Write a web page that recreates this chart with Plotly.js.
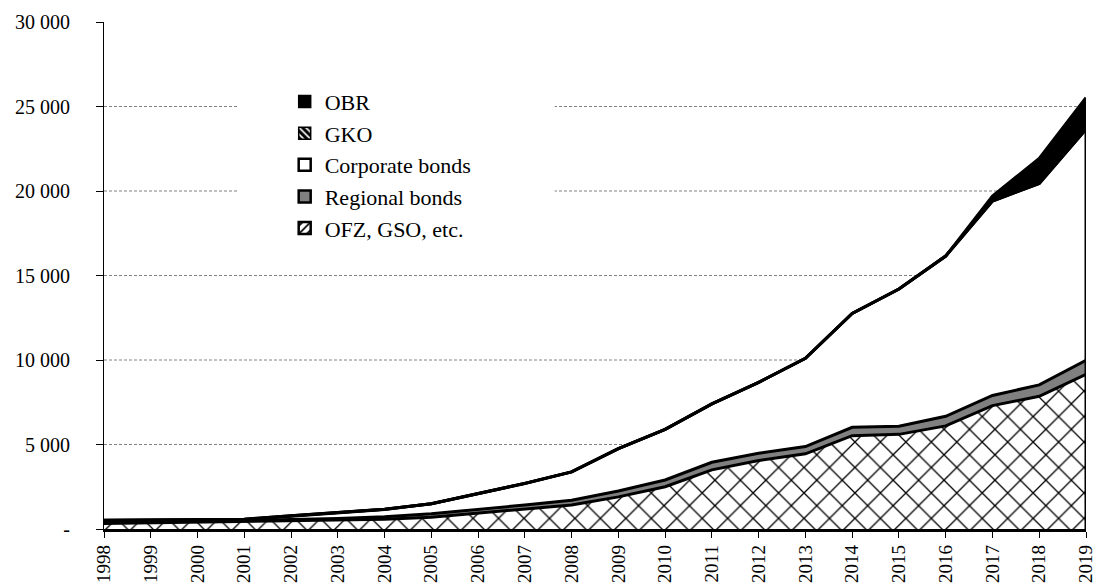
<!DOCTYPE html>
<html>
<head>
<meta charset="utf-8">
<script src="https://cdn.plot.ly/plotly-3.0.1.min.js"></script>
<style>html,body{margin:0;padding:0;background:#fff;}#chart{width:1096px;height:583px;}</style>
</head>
<body>
<div id="chart"></div>
<script>
// ---- data (billions) ----
const years = [1998,1999,2000,2001,2002,2003,2004,2005,2006,2007,2008,2009,2010,2011,2012,2013,2014,2015,2016,2017,2018,2019];
const ofz       = [330,370,400,420,480,520,580,700,950,1200,1420,1900,2500,3500,4050,4450,5520,5600,6100,7300,7850,9150];
const regional  = [50,50,60,60,80,100,140,200,200,220,280,350,400,450,430,430,500,480,570,600,680,830];
const corporate = [40,40,50,60,200,320,440,590,965,1275,1680,2500,3000,3450,4200,5220,6730,8120,9480,11500,11920,13670];
const gko       = [100,80,60,40,30,20,10,10,5,5,0,0,0,0,0,0,0,0,0,0,0,0];
const obr       = [0,0,0,0,0,0,0,0,0,0,0,0,0,0,0,0,0,0,0,300,1480,1870];
const yTickVals = [0,5000,10000,15000,20000,25000,30000];
const yTickText = ['-','5 000','10 000','15 000','20 000','25 000','30 000'];
const gridVals  = [5000,10000,15000,20000,25000];
const names = {obr:'OBR', gko:'GKO', corp:'Corporate bonds', reg:'Regional bonds', ofz:'OFZ, GSO, etc.'};

const FONT = 'Liberation Serif, Times New Roman, serif';
const LW = 3;

const area = (y, name, extra) => Object.assign({
  type:'scatter', mode:'lines', x: years, y: y, name: name,
  stackgroup:'one', line:{color:'#000', width:LW, shape:'linear'},
  showlegend:false, hoverinfo:'skip'
}, extra);

const traces = [
  area(ofz, names.ofz, {fillcolor:'#fff', fillpattern:{shape:'x', size:18, solidity:0.14, fgcolor:'#000', bgcolor:'#fff'}}),
  area(regional, names.reg, {fillcolor:'#808080'}),
  area(corporate, names.corp, {fillcolor:'#fff'}),
  area(gko, names.gko, {fillcolor:'#000', fillpattern:{shape:'\\', size:6, solidity:0.3, fgcolor:'#fff', bgcolor:'#000'}}),
  area(obr, names.obr, {fillcolor:'#000'})
];

// right edge of the stacked corporate area (closing outline)
const last = years.length - 1;
traces.push({type:'scatter', mode:'lines', x:[years[last], years[last]],
  y:[0, ofz[last] + regional[last] + corporate[last]],
  line:{color:'#000', width:LW}, showlegend:false, hoverinfo:'skip'});

// legend entries (square icons)
const legendItem = (name, marker, g) => ({type:'bar', x:[null], y:[null], name:name, marker:marker, legendgroup:g, showlegend:true, hoverinfo:'skip'});
traces.push(legendItem(names.obr, {color:'#000', line:{color:'#000', width:1.5}}, 'a'));
traces.push(legendItem(names.gko, {color:'#000', line:{color:'#000', width:1.5}, pattern:{shape:'\\', fgcolor:'#fff', bgcolor:'#000', size:6, solidity:0.35}}, 'b'));
traces.push(legendItem(names.corp, {color:'#fff', line:{color:'#000', width:2.5}}, 'c'));
traces.push(legendItem(names.reg, {color:'#808080', line:{color:'#000', width:2.5}}, 'd'));
traces.push(legendItem(names.ofz, {color:'#fff', line:{color:'#000', width:2.5}, pattern:{shape:'/', fgcolor:'#000', bgcolor:'#fff', size:7, solidity:0.3}}, 'e'));

const shapes = gridVals.map(v => ({type:'line', xref:'paper', x0:0, x1:1, yref:'y', y0:v, y1:v,
  line:{color:'#808080', width:1, dash:'3px,2px'}, layer:'below'}));
// white legend box (as in the original, wider than the entries)
shapes.push({type:'rect', xref:'paper', yref:'paper', x0:0.1365, x1:0.459, y0:0.55, y1:0.876,
  fillcolor:'#fff', line:{width:0}, layer:'below'});

const layout = {
  width:1096, height:583,
  margin:{l:104, r:10, t:22, b:54},
  paper_bgcolor:'#fff', plot_bgcolor:'#fff',
  font:{family:FONT, size:20, color:'#000'},
  showlegend:true,
  legend:{x:0.184, y:0.884, xanchor:'left', yanchor:'top', bgcolor:'rgba(0,0,0,0)',
    font:{family:FONT, size:22, color:'#000'}, traceorder:'grouped', tracegroupgap:0, itemwidth:30},
  xaxis:{type:'linear', range:[years[0], years[last]], tickvals:years, ticktext:years.map(String),
    tickangle:-90, ticks:'outside', ticklen:6, tickwidth:1, tickcolor:'#000', ticklabeloverflow:'allow',
    showline:true, linecolor:'#000', linewidth:2.5, showgrid:false, zeroline:false,
    tickfont:{family:FONT, size:19, color:'#000'}},
  yaxis:{range:[0,30000], tickvals:yTickVals, ticktext:yTickText,
    ticks:'outside', ticklen:7, tickwidth:1, tickcolor:'#000', ticklabelstandoff:22,
    showline:true, linecolor:'#000', linewidth:1, showgrid:false, zeroline:false,
    tickfont:{family:FONT, size:20, color:'#000'}},
  shapes:shapes,
  barmode:'overlay'
};

Plotly.newPlot('chart', traces, layout, {displayModeBar:false, staticPlot:true});
</script>
</body>
</html>
